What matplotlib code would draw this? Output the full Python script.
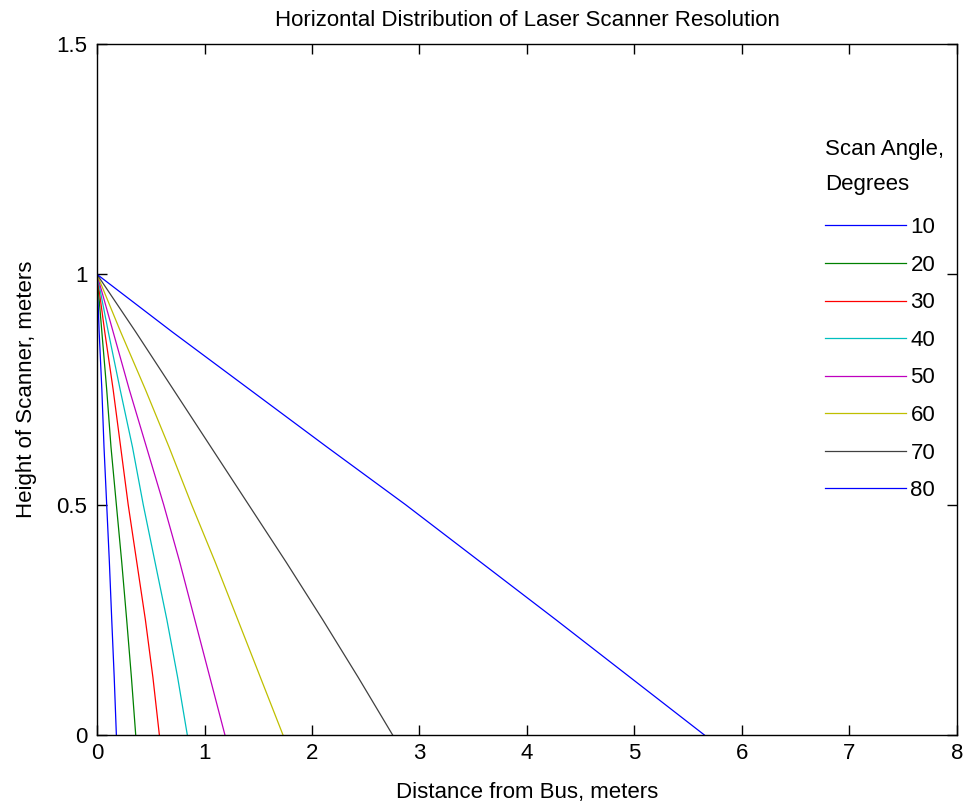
import matplotlib
matplotlib.use('Agg')
import matplotlib.pyplot as plt

# valores: distancia horizontal (m) para cada altura (m)
alturas = [1.0, 0.875, 0.75, 0.625, 0.5, 0.375, 0.25, 0.125, 0.0]
angulos = ['10', '20', '30', '40', '50', '60', '70', '80']
dist_10 = [0.0, 0.02, 0.045, 0.065, 0.09, 0.115, 0.137, 0.16, 0.18]
dist_20 = [0.0, 0.045, 0.09, 0.13, 0.18, 0.23, 0.276, 0.32, 0.36]
dist_30 = [0.0, 0.072, 0.15, 0.22, 0.29, 0.37, 0.45, 0.52, 0.58]
dist_40 = [0.0, 0.105, 0.215, 0.33, 0.43, 0.54, 0.65, 0.75, 0.84]
dist_50 = [0.0, 0.15, 0.30, 0.46, 0.62, 0.77, 0.91, 1.05, 1.19]
dist_60 = [0.0, 0.22, 0.45, 0.67, 0.88, 1.10, 1.31, 1.52, 1.73]
dist_70 = [0.0, 0.36, 0.71, 1.06, 1.41, 1.76, 2.10, 2.43, 2.75]
dist_80 = [0.0, 0.70, 1.42, 2.14, 2.87, 3.57, 4.27, 4.96, 5.65]
distancias = [dist_10, dist_20, dist_30, dist_40, dist_50, dist_60, dist_70, dist_80]

cores = ['#0000ff', '#008000', '#ff0000', '#00bfbf', '#bf00bf', '#bfbf00', '#404040', '#0000ff']

plt.rcParams['font.family'] = ['Liberation Sans', 'DejaVu Sans']
plt.rcParams['font.size'] = 16

fig = plt.figure(figsize=(9.77, 8.05), dpi=100)
ax = fig.add_axes([0.0993, 0.087, 0.8802, 0.8583])

for ang, d, c in zip(angulos, distancias, cores):
    ax.plot(d, alturas, color=c, linewidth=0.9, label=ang)

ax.set_xlim(0, 8)
ax.set_ylim(0, 1.5)
ax.set_xticks(range(0, 9))
ax.set_yticks([0, 0.5, 1, 1.5])
ax.set_yticklabels(['0', '0.5', '1', '1.5'])
ax.tick_params(direction='in', length=7, width=1, top=True, right=True)
ax.tick_params(axis='x', pad=6)
ax.tick_params(axis='y', pad=7)
for s in ax.spines.values():
    s.set_linewidth(1)

ax.set_title('Horizontal Distribution of Laser Scanner Resolution', fontsize=16, pad=13)
ax.set_xlabel('Distance from Bus, meters', fontsize=16, labelpad=13)
ax.set_ylabel('Height of Scanner, meters', fontsize=16, labelpad=14)

leg = ax.legend(title='Scan Angle,\nDegrees', frameon=False, loc='upper left',
                bbox_to_anchor=(0.8335, 0.879), handlelength=3.65, handletextpad=0.2,
                labelspacing=0.745, borderpad=0, fontsize=16, title_fontsize=16)
leg._legend_box.align = 'left'
leg._legend_box.sep = leg._legend_box.sep + 4  # espaco extra entre titulo e entradas
leg.get_title().set_linespacing(1.9)

fig.savefig('out.png', dpi=100)
